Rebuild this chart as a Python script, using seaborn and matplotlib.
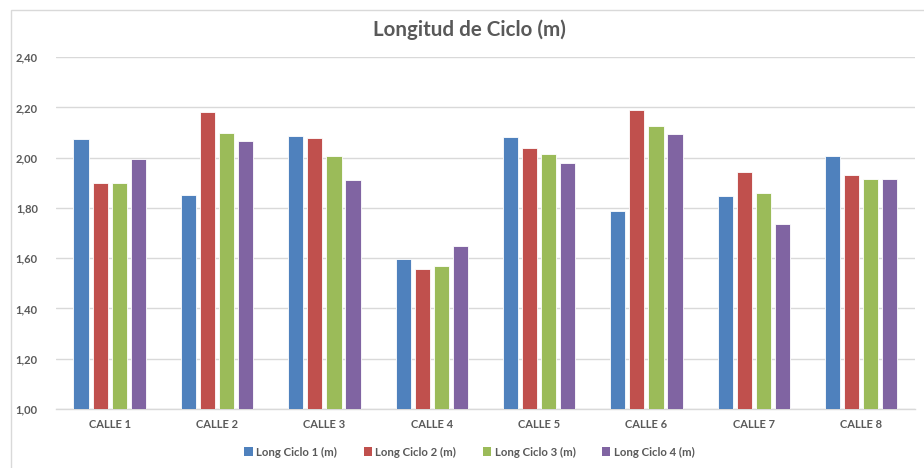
import matplotlib
matplotlib.use("Agg")
import matplotlib.pyplot as plt
import matplotlib.patches as mpatches
from matplotlib.ticker import FuncFormatter, MultipleLocator
import seaborn as sns
import pandas as pd

categories = ["CALLE 1", "CALLE 2", "CALLE 3", "CALLE 4", "CALLE 5", "CALLE 6", "CALLE 7", "CALLE 8"]
series_names = ["Long Ciclo 1 (m)", "Long Ciclo 2 (m)", "Long Ciclo 3 (m)", "Long Ciclo 4 (m)"]
ciclo1 = [2.073, 1.851, 2.087, 1.596, 2.081, 1.787, 1.847, 2.006]
ciclo2 = [1.898, 2.181, 2.077, 1.556, 2.038, 2.189, 1.943, 1.930]
ciclo3 = [1.899, 2.100, 2.006, 1.569, 2.015, 2.127, 1.859, 1.917]
ciclo4 = [1.994, 2.066, 1.913, 1.649, 1.979, 2.096, 1.735, 1.917]
colors = ["#4F81BD", "#C0504D", "#9BBB59", "#8064A2"]

rows = []
for name, vals in zip(series_names, [ciclo1, ciclo2, ciclo3, ciclo4]):
    for c, v in zip(categories, vals):
        rows.append({"Calle": c, "Serie": name, "Valor": v})
df = pd.DataFrame(rows)

sns.set_theme(style="white")
plt.rcParams["font.family"] = ["Lato", "DejaVu Sans"]

fig = plt.figure(figsize=(9.24, 4.68), dpi=100)
ax = fig.add_axes([0.0606, 0.126, 0.9294, 0.752])

sns.barplot(data=df, x="Calle", y="Valor", hue="Serie", order=categories,
            hue_order=series_names, palette=colors, saturation=1, width=0.71, gap=0.2,
            edgecolor="white", linewidth=0.6, ax=ax, legend=False, zorder=3)

ax.set_ylim(1.0, 2.4)
ax.yaxis.set_major_locator(MultipleLocator(0.2))
ax.yaxis.set_major_formatter(FuncFormatter(lambda v, p: f"{v:.2f}".replace(".", ",")))
ax.grid(axis="y", color="#D9D9D9", linewidth=1.0, zorder=0)
ax.set_axisbelow(True)
for s in ["top", "right", "left"]:
    ax.spines[s].set_visible(False)
ax.spines["bottom"].set_color("#D9D9D9")
ax.spines["bottom"].set_linewidth(1.0)
ax.set_xlabel("")
ax.set_ylabel("")
ax.tick_params(axis="both", length=0, colors="#595959", labelsize=8)
ax.tick_params(axis="y", pad=13)
ax.tick_params(axis="x", pad=7)
for lab in ax.get_xticklabels() + ax.get_yticklabels():
    lab.set_fontweight("bold")
    lab.set_color("#595959")

fig.text(0.508, 0.937, "Longitud de Ciclo (m)", ha="center", va="center",
         fontsize=14.8, fontweight="bold", color="#595959")

handles = [mpatches.Patch(facecolor=c, edgecolor="none", label=n) for c, n in zip(colors, series_names)]
leg = fig.legend(handles=handles, loc="center", bbox_to_anchor=(0.508, 0.034), ncol=4,
                 frameon=False, handlelength=0.75, handleheight=0.75, handletextpad=0.3,
                 columnspacing=2.3, prop={"size": 8.2, "weight": "bold"})
for t in leg.get_texts():
    t.set_color("#595959")

# chart area border
fig.patches.append(mpatches.Rectangle((11 / 924, -0.01), 1.02, 1 - 10 / 468 + 0.01,
                                      transform=fig.transFigure, fill=False,
                                      edgecolor="#D9D9D9", linewidth=1.0))

fig.savefig("out.png", dpi=100)
